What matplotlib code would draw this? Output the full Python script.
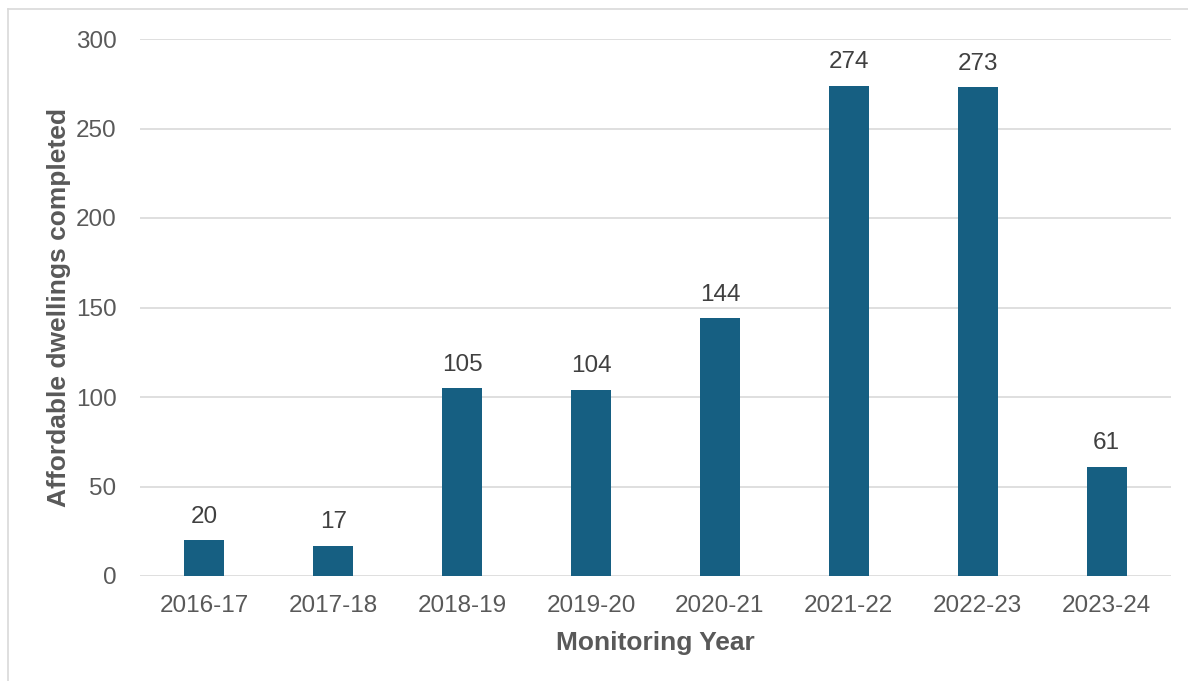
import matplotlib.pyplot as plt
from matplotlib.lines import Line2D

plt.rcParams['font.family'] = ['Liberation Sans', 'DejaVu Sans']

years = ['2016-17', '2017-18', '2018-19', '2019-20', '2020-21', '2021-22', '2022-23', '2023-24']
completed = [20, 17, 105, 104, 144, 274, 273, 61]

bar_col = '#165f82'
txt_col = '#595959'
grid_col = '#d9d9d9'

fig = plt.figure(figsize=(11.88, 6.81), dpi=100)
ax = fig.add_axes([140/1188, 1 - 576/681, 1031/1188, 537/681])

x = range(len(years))
bars = ax.bar(x, completed, width=0.31, color=bar_col, zorder=3)
for b, v in zip(bars, completed):
    ax.annotate(str(v), (b.get_x() + b.get_width()/2, v), xytext=(0, 9),
                textcoords='offset points', ha='center', va='bottom',
                fontsize=17.5, color='#404040')

ax.set_xlim(-0.5, len(years) - 0.5)
ax.set_ylim(0, 300)
ax.set_yticks(range(0, 301, 50))
ax.set_xticks(list(x))
ax.set_xticklabels(years)
ax.tick_params(axis='both', length=0, labelsize=17.5, labelcolor=txt_col)
ax.tick_params(axis='y', pad=17)
ax.tick_params(axis='x', pad=14)
ax.yaxis.grid(True, color=grid_col, lw=1.2, zorder=0)
for s in ax.spines.values():
    s.set_visible(False)

ax.set_xlabel('Monitoring Year', fontsize=19, fontweight='bold', color=txt_col, labelpad=10)
ax.set_ylabel('Affordable dwellings completed', fontsize=19, fontweight='bold', color=txt_col, labelpad=3)

# outer chart border (left and top edges visible)
fig.add_artist(Line2D([8/1188, 8/1188], [0, 1 - 9/681], transform=fig.transFigure, color=grid_col, lw=1.2))
fig.add_artist(Line2D([8/1188, 1], [1 - 9/681, 1 - 9/681], transform=fig.transFigure, color=grid_col, lw=1.2))

fig.savefig('out.png', dpi=100)
